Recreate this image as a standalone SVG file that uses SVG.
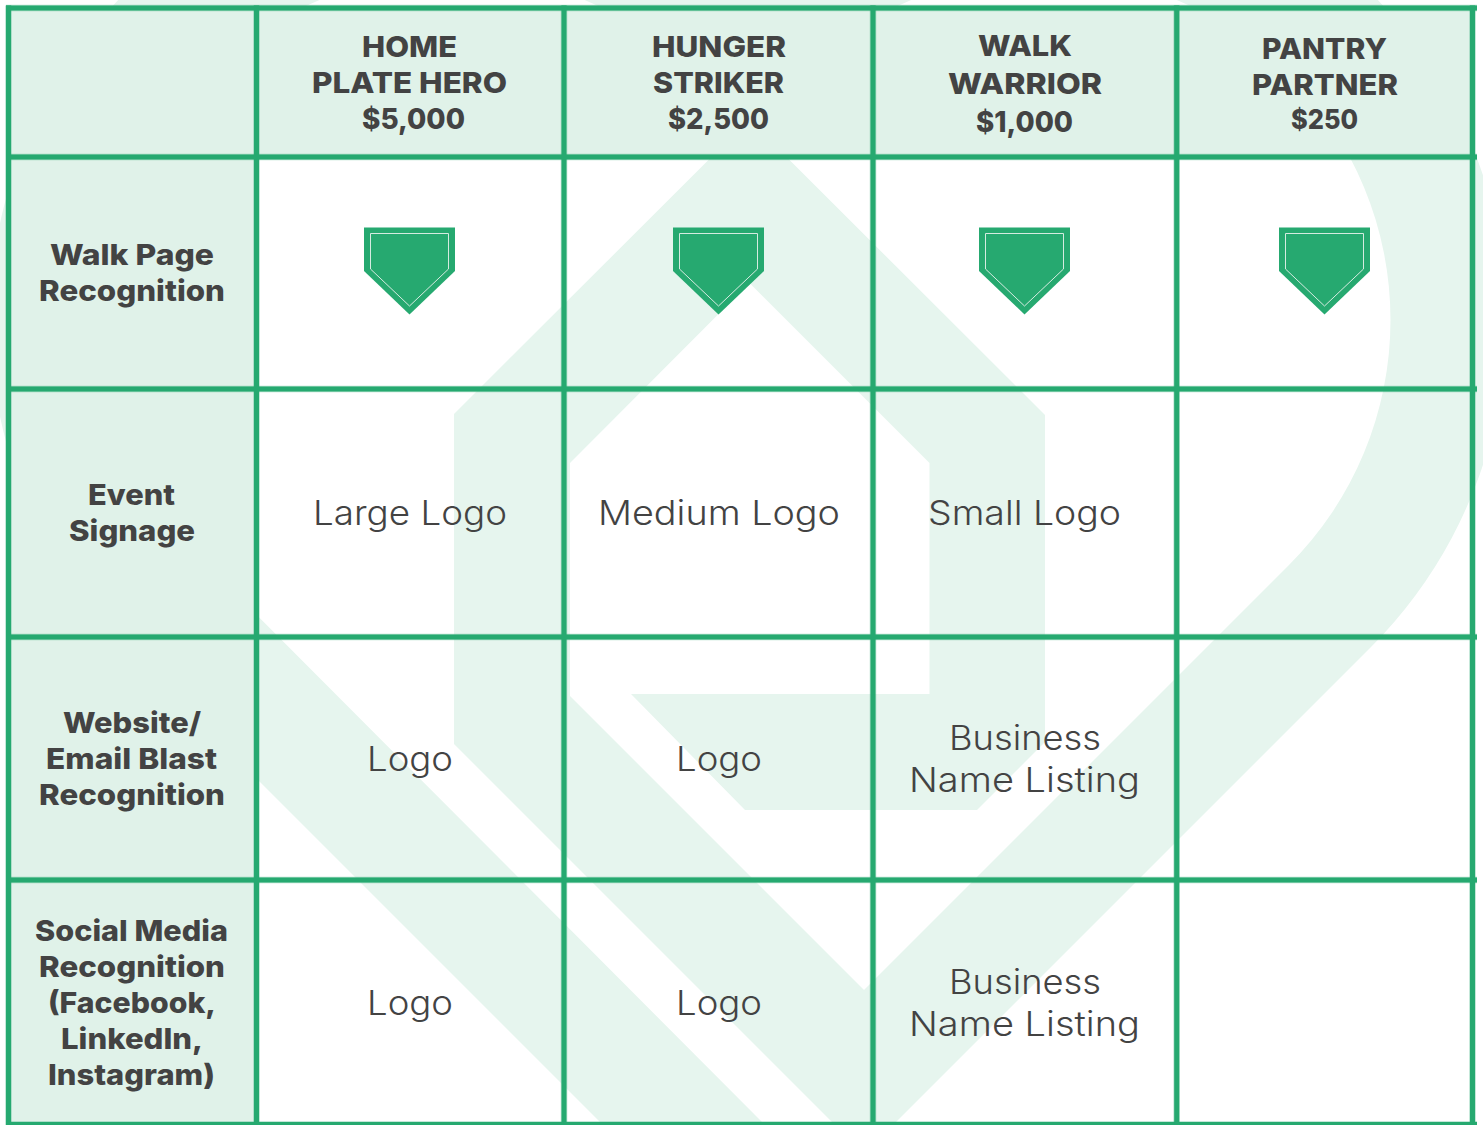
<svg xmlns="http://www.w3.org/2000/svg" width="1483" height="1125" viewBox="0 0 1483 1125">
<style>
.wm{fill:#e6f5ee}
.hd{fill:#e0f2e9}
.ln{stroke:#26a970;stroke-width:5;fill:none}
.hl{stroke:#26a970;stroke-opacity:.35;stroke-width:6.5;fill:none}
.b{font-family:Inter,"Liberation Sans",sans-serif;font-weight:800;font-size:29px;fill:#434343;text-anchor:middle}
.l{font-family:Inter,"Liberation Sans",sans-serif;font-weight:300;font-size:34px;fill:#434343;text-anchor:middle}
.pf{fill:#26a970}
.pi{fill:none;stroke:#d5ebe0;stroke-width:1}
</style>
<defs>
<g id="plate">
<path class="pf" d="M-45.5 227.500H45.500V271L0 314.500L-45.500 271Z"/>
<path class="pi" d="M-39 233.500H39V269L0 306L-39 269Z"/>
</g>
<path id="hgrid" d="M6 8H1477M6 157H1477M6 389H1477M6 637H1477M6 880H1477M6 1124.500H1477"/>
<path id="vgrid" d="M8.500 5.500V1125M256.500 5.500V1125M564 5.500V1125M873 5.500V1125M1176.700 5.500V1125M1472.500 5.500V1125"/>
</defs>
<rect width="1483" height="1125" fill="#ffffff"/>
<g id="watermark">
<path class="wm" d="M765 1125L207 565A346 346 0 0 1 697 75L749 127V-143H452A463 463 0 0 0 125 647L603 1125Z"/>
<path class="wm" d="M864 990L1289 565A346 346 0 0 0 799 75L749 127V-143H1044A463 463 0 0 1 1371 647L893 1125H864Z"/>
<path class="wm" d="M454 414L749 119.500L1045 415V742L977 810H745L631 694H929.500V463L749.500 283L570 463V696L864 990V1125H835L454 744Z"/>
</g>
<g id="header-fill">
<rect class="hd" x="8" y="8" width="1465" height="149"/>
<rect class="hd" x="8" y="157" width="249" height="968"/>
</g>
<g id="connectors">
<use href="#hgrid" class="hl"/>
<use href="#vgrid" class="hl"/>
<use href="#hgrid" class="ln"/>
<use href="#vgrid" class="ln"/>
</g>
<g id="col-home">
<text class="b" x="409.500" y="57" textLength="95" lengthAdjust="spacingAndGlyphs">HOME</text>
<text class="b" x="409.500" y="93" textLength="195" lengthAdjust="spacingAndGlyphs">PLATE HERO</text>
<text class="b" x="413.500" y="129" textLength="103" lengthAdjust="spacingAndGlyphs">$5,000</text>
</g>
<g id="col-hunger">
<text class="b" x="719" y="57" textLength="134" lengthAdjust="spacingAndGlyphs">HUNGER</text>
<text class="b" x="718.500" y="93" textLength="131" lengthAdjust="spacingAndGlyphs">STRIKER</text>
<text class="b" x="718.500" y="129" textLength="101" lengthAdjust="spacingAndGlyphs">$2,500</text>
</g>
<g id="col-walk">
<text class="b" x="1025" y="56" textLength="94" lengthAdjust="spacingAndGlyphs">WALK</text>
<text class="b" x="1025" y="94" textLength="154" lengthAdjust="spacingAndGlyphs">WARRIOR</text>
<text class="b" x="1024.500" y="132" textLength="97" lengthAdjust="spacingAndGlyphs">$1,000</text>
</g>
<g id="col-pantry">
<text class="b" x="1324.500" y="59" textLength="125" lengthAdjust="spacingAndGlyphs">PANTRY</text>
<text class="b" x="1325" y="95" textLength="146" lengthAdjust="spacingAndGlyphs">PARTNER</text>
<text class="b" x="1324.500" y="129" textLength="67" lengthAdjust="spacingAndGlyphs" style="font-size:27px">$250</text>
</g>
<g id="row-walk-page">
<text class="b" x="132" y="265" textLength="164" lengthAdjust="spacingAndGlyphs">Walk Page</text>
<text class="b" x="132" y="301" textLength="186" lengthAdjust="spacingAndGlyphs">Recognition</text>
<use href="#plate" x="409.500"/>
<use href="#plate" x="718.500"/>
<use href="#plate" x="1024.500"/>
<use href="#plate" x="1324.500"/>
</g>
<g id="row-event-signage">
<text class="b" x="131.500" y="505" textLength="87" lengthAdjust="spacingAndGlyphs">Event</text>
<text class="b" x="132" y="541" textLength="126" lengthAdjust="spacingAndGlyphs">Signage</text>
<text class="l" x="410" y="525" textLength="194" lengthAdjust="spacingAndGlyphs">Large Logo</text>
<text class="l" x="719" y="525" textLength="242" lengthAdjust="spacingAndGlyphs">Medium Logo</text>
<text class="l" x="1024.500" y="525" textLength="193" lengthAdjust="spacingAndGlyphs">Small Logo</text>
</g>
<g id="row-website">
<text class="b" x="132" y="733" textLength="138" lengthAdjust="spacingAndGlyphs">Website/</text>
<text class="b" x="131.500" y="769" textLength="171" lengthAdjust="spacingAndGlyphs">Email Blast</text>
<text class="b" x="132" y="805" textLength="186" lengthAdjust="spacingAndGlyphs">Recognition</text>
<text class="l" x="410" y="771" textLength="86" lengthAdjust="spacingAndGlyphs">Logo</text>
<text class="l" x="719" y="771" textLength="86" lengthAdjust="spacingAndGlyphs">Logo</text>
<text class="l" x="1025" y="750" textLength="152" lengthAdjust="spacingAndGlyphs">Business</text>
<text class="l" x="1024.500" y="792" textLength="231" lengthAdjust="spacingAndGlyphs">Name Listing</text>
</g>
<g id="row-social">
<text class="b" x="131.500" y="941" textLength="193" lengthAdjust="spacingAndGlyphs">Social Media</text>
<text class="b" x="132" y="977" textLength="186" lengthAdjust="spacingAndGlyphs">Recognition</text>
<text class="b" x="132" y="1013" textLength="168" lengthAdjust="spacingAndGlyphs">(Facebook,</text>
<text class="b" x="132" y="1049" textLength="142" lengthAdjust="spacingAndGlyphs">LinkedIn,</text>
<text class="b" x="131.500" y="1085" textLength="167" lengthAdjust="spacingAndGlyphs">Instagram)</text>
<text class="l" x="410" y="1015" textLength="86" lengthAdjust="spacingAndGlyphs">Logo</text>
<text class="l" x="719" y="1015" textLength="86" lengthAdjust="spacingAndGlyphs">Logo</text>
<text class="l" x="1025" y="994" textLength="152" lengthAdjust="spacingAndGlyphs">Business</text>
<text class="l" x="1024.500" y="1036" textLength="231" lengthAdjust="spacingAndGlyphs">Name Listing</text>
</g>
</svg>
